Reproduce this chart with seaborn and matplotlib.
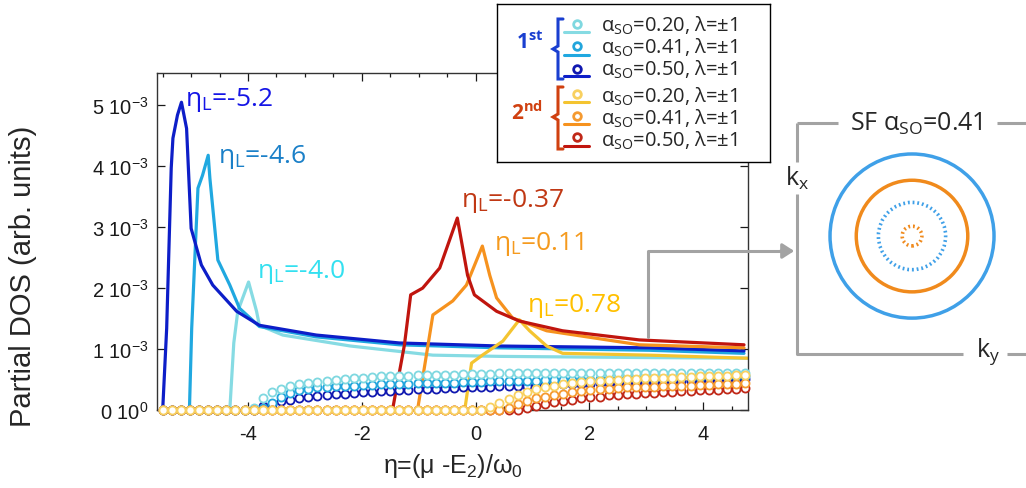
import numpy as np
import pandas as pd
import seaborn as sns
import matplotlib.pyplot as plt
from matplotlib.patches import Circle, FancyArrowPatch
from matplotlib.lines import Line2D
from matplotlib.ticker import MultipleLocator, FuncFormatter

# ============ 数据 (DOS in units of 1e-3) ============
# solid curves
eta_c20 = [-4.32, -4.25, -4.18, -3.99, -3.85, -3.80, -3.39, -2.20, -0.75, 0.42, 3.06, 4.78]
dos_c20 = [0.00, 1.10, 1.62, 2.10, 1.62, 1.39, 1.23, 1.05, 0.90, 0.88, 0.86, 0.85]
eta_b41 = [-5.03, -4.99, -4.88, -4.80, -4.70, -4.67, -4.53, -4.32, -4.15, -3.80, -2.80, -1.34, 0.42, 3.06, 4.72]
dos_b41 = [0.00, 1.34, 3.64, 3.85, 4.18, 3.80, 2.46, 2.05, 1.67, 1.37, 1.20, 1.07, 1.02, 0.98, 0.93]
eta_b50 = [-5.50, -5.43, -5.35, -5.32, -5.24, -5.17, -5.08, -5.00, -4.82, -4.62, -4.20, -3.80, -2.80, -1.34, 0.42, 3.06, 4.72]
dos_b50 = [0.00, 1.34, 3.97, 4.46, 4.84, 5.05, 4.62, 2.98, 2.38, 2.05, 1.62, 1.39, 1.23, 1.10, 1.05, 1.02, 0.97]
eta_y20 = [-0.19, -0.07, 0.12, 0.48, 0.77, 0.95, 1.25, 1.53, 3.06, 4.78]
dos_y20 = [0.00, 0.77, 0.90, 1.13, 1.48, 1.30, 1.05, 0.93, 0.90, 0.85]
eta_o41 = [-1.02, -0.75, -0.40, -0.16, 0.12, 0.25, 0.37, 0.65, 1.25, 2.88, 4.72]
dos_o41 = [0.00, 1.56, 1.79, 2.05, 2.69, 2.21, 1.84, 1.51, 1.30, 1.07, 1.02]
eta_r50 = [-1.46, -1.25, -1.14, -0.93, -0.63, -0.32, -0.14, -0.02, 0.37, 0.77, 1.53, 2.88, 4.72]
dos_r50 = [0.00, 1.07, 1.89, 2.00, 2.33, 3.15, 2.21, 1.89, 1.62, 1.46, 1.30, 1.15, 1.07]

# open-circle curves, sampled on a common eta grid
eta_grid = np.round(np.arange(-5.5, 4.75, 0.16), 2)
circ_c20 = [0.0] * 10 + [0.03, 0.20, 0.29, 0.35, 0.39, 0.42, 0.44, 0.46, 0.48, 0.50,
                         0.51, 0.52, 0.53, 0.54, 0.55, 0.55, 0.56, 0.56, 0.57, 0.57, 0.58,
                         0.58, 0.58, 0.59, 0.59, 0.59, 0.59, 0.60, 0.60, 0.60, 0.60,
                         0.60, 0.60, 0.60, 0.60, 0.60, 0.60, 0.60, 0.60, 0.60, 0.61,
                         0.61, 0.61, 0.61, 0.61, 0.61, 0.61, 0.61, 0.61, 0.61, 0.61,
                         0.61, 0.61, 0.61, 0.61]
circ_b41 = [0.0] * 11 + [0.03, 0.12, 0.22, 0.28, 0.32, 0.35, 0.37, 0.38, 0.39, 0.40,
                         0.40, 0.41, 0.41, 0.42, 0.42, 0.43, 0.43, 0.44, 0.44, 0.45,
                         0.45, 0.45, 0.46, 0.46, 0.46, 0.47, 0.47, 0.47, 0.48, 0.48,
                         0.48, 0.49, 0.49, 0.49, 0.50, 0.50, 0.50, 0.51, 0.51, 0.51,
                         0.52, 0.52, 0.52, 0.53, 0.53, 0.53, 0.54, 0.54, 0.54, 0.55,
                         0.55, 0.55, 0.56, 0.56]
circ_b50 = [0.0] * 11 + [0.06, 0.10, 0.14, 0.17, 0.19, 0.21, 0.23, 0.24, 0.26, 0.27,
                         0.28, 0.29, 0.30, 0.31, 0.31, 0.32, 0.33, 0.34, 0.34, 0.35,
                         0.36, 0.36, 0.37, 0.37, 0.38, 0.38, 0.39, 0.39, 0.40, 0.40,
                         0.40, 0.41, 0.41, 0.42, 0.42, 0.43, 0.43, 0.44, 0.44, 0.44,
                         0.45, 0.45, 0.46, 0.46, 0.47, 0.47, 0.48, 0.48, 0.49, 0.49,
                         0.50, 0.50, 0.51, 0.51]
circ_y20 = [0.0] * 36 + [0.05, 0.12, 0.18, 0.24, 0.30, 0.34, 0.37, 0.40, 0.42, 0.44,
                         0.46, 0.47, 0.48, 0.49, 0.50, 0.51, 0.51, 0.52, 0.52, 0.53,
                         0.53, 0.54, 0.54, 0.55, 0.55, 0.56, 0.56, 0.57, 0.57]
circ_o41 = [0.0] * 38 + [0.04, 0.10, 0.15, 0.19, 0.22, 0.25, 0.27, 0.29, 0.31, 0.33,
                         0.34, 0.35, 0.36, 0.37, 0.37, 0.38, 0.38, 0.39, 0.39, 0.40,
                         0.40, 0.41, 0.41, 0.42, 0.42, 0.43, 0.44]
circ_r50 = [0.0] * 40 + [0.03, 0.07, 0.10, 0.13, 0.15, 0.17, 0.19, 0.21, 0.22, 0.24,
                         0.25, 0.26, 0.27, 0.28, 0.28, 0.29, 0.30, 0.31, 0.31, 0.32,
                         0.33, 0.33, 0.34, 0.35, 0.36]

series = ["c20", "b41", "b50", "y20", "o41", "r50"]
circ_order = ["b50", "b41", "c20", "r50", "o41", "y20"]
line_colors = {"c20": "#86dbe3", "b41": "#20a8e0", "b50": "#0d1ec8",
               "y20": "#f4c430", "o41": "#f6921e", "r50": "#c0150e"}
circ_colors = {"c20": "#7fd8e0", "b41": "#22a5dc", "b50": "#1018b0",
               "y20": "#f8d060", "o41": "#f59a30", "r50": "#c02818"}
lines = {"c20": (eta_c20, dos_c20), "b41": (eta_b41, dos_b41), "b50": (eta_b50, dos_b50),
         "y20": (eta_y20, dos_y20), "o41": (eta_o41, dos_o41), "r50": (eta_r50, dos_r50)}
circles = {"c20": circ_c20, "b41": circ_b41, "b50": circ_b50,
           "y20": circ_y20, "o41": circ_o41, "r50": circ_r50}

# peak annotations
peak_text = ["-5.2", "-4.6", "-4.0", "-0.37", "0.11", "0.78"]
peak_x = [-5.11, -4.53, -3.85, -0.25, 0.33, 0.90]
peak_y = [5.11, 4.16, 2.28, 3.44, 2.74, 1.72]
peak_colors = ["#1515e6", "#1b80c8", "#33e0f0", "#c03814", "#f59a1e", "#ffc000"]

legend_alpha = ["0.20", "0.41", "0.50", "0.20", "0.41", "0.50"]
fs_radii = [1.0, 0.68, 0.41, 0.12]
fs_colors = ["#3fa0e8", "#f08a1c", "#3fa0e8", "#f08a1c"]
fs_dotted = [False, False, True, True]

# ============ 样式 ============
sns.set_style("ticks")
plt.rcParams["font.family"] = ["Liberation Sans", "DejaVu Sans"]
plt.rcParams["mathtext.default"] = "regular"
plt.rcParams["axes.unicode_minus"] = False
ann_font = ["Open Sans", "DejaVu Sans"]

fig = plt.figure(figsize=(10.26, 4.89), dpi=100)
W, H = 1026, 489
ax = fig.add_axes([157 / W, 1 - 411 / H, 591 / W, 337 / H])

for key in series:
    ex, dy = lines[key]
    df = pd.DataFrame({"eta": ex, "dos": np.array(dy) * 1e-3})
    sns.lineplot(data=df, x="eta", y="dos", color=line_colors[key], lw=2.3,
                 estimator=None, sort=False, ax=ax, zorder=2)

for key in circ_order:
    df = pd.DataFrame({"eta": eta_grid, "dos": np.array(circles[key]) * 1e-3})
    sns.scatterplot(data=df, x="eta", y="dos", marker="o", s=34, facecolor="white",
                    edgecolor=circ_colors[key], linewidth=1.3, ax=ax, zorder=3,
                    clip_on=False)

for txt, xx, yy, cc in zip(peak_text, peak_x, peak_y, peak_colors):
    ax.text(xx, yy * 1e-3, "η$_{L}$=" + txt, color=cc, fontsize=19, family=ann_font,
            va="center", ha="left")

ax.set_xlim(-5.6, 4.79)
ax.set_ylim(0, 5.53e-3)
ax.xaxis.set_major_locator(MultipleLocator(2))
ax.xaxis.set_minor_locator(MultipleLocator(0.5))
ax.yaxis.set_major_locator(MultipleLocator(1e-3))
ax.yaxis.set_major_formatter(FuncFormatter(
    lambda v, _: "0 10$^{0}$" if abs(v) < 1e-9 else f"{v * 1e3:.0f} 10$^{{-3}}$"))
ax.tick_params(which="both", direction="in", top=True, right=True, labelsize=14.5,
               colors="#1a1a1a", width=0.9)
ax.tick_params(which="major", length=6)
ax.tick_params(which="minor", length=3)
ax.tick_params(axis="x", pad=10)
ax.tick_params(axis="y", pad=6)
for sp in ax.spines.values():
    sp.set_linewidth(1.0)
    sp.set_color("#333333")
ax.set_xlabel("η=(μ -E$_{2}$)/ω$_{0}$", fontsize=18, labelpad=6)
ax.set_ylabel("Partial DOS (arb. units)", fontsize=21)
ax.yaxis.set_label_coords(-0.203, 0.40)

# ============ 图例框 ============
axl = fig.add_axes([497 / W, 1 - 163 / H, 273 / W, 158 / H])
axl.set_xlim(497, 770)
axl.set_ylim(163, 5)
axl.set_xticks([])
axl.set_yticks([])
for sp in axl.spines.values():
    sp.set_linewidth(1.0)
    sp.set_color("black")
mark_y = [25, 47, 70, 95, 117, 138]
line_y = [33, 56, 77, 103, 125, 147]
text_y = [26, 48, 70, 97, 119, 141]
for i, key in enumerate(series):
    axl.plot([564, 589], [line_y[i], line_y[i]], color=line_colors[key], lw=2.2)
    axl.plot([577], [mark_y[i]], marker="o", ms=5.5, mfc="white",
             mec=circ_colors[key], mew=2.0)
    axl.text(601, text_y[i], "α$_{SO}$=" + legend_alpha[i] + ", λ=±1", fontsize=14.5,
             family=ann_font, va="center", ha="left")
for (top, mid, bot, col) in [(20, 50, 80, "#1a3fd0"), (88, 118, 150, "#d04010")]:
    axl.plot([563, 558, 558, 553, 558, 558, 563], [top, top, mid - 3, mid, mid + 3, bot, bot],
             color=col, lw=2.2, solid_joinstyle="miter")
axl.text(516, 43, "1$^{st}$", color="#1a3fd0", fontsize=15, fontweight="bold",
         family=ann_font, va="center", ha="left")
axl.text(511, 113, "2$^{nd}$", color="#d04010", fontsize=15, fontweight="bold",
         family=ann_font, va="center", ha="left")

# ============ 费米面示意 ============
axf = fig.add_axes([780 / W, 1 - 370 / H, 246 / W, 270 / H])
axf.set_xlim(-1.61, 1.39)
axf.set_ylim(-1.62, 1.67)
axf.axis("off")
for r, c, dot in zip(fs_radii, fs_colors, fs_dotted):
    circ = Circle((0, 0), r, fill=False, edgecolor=c, lw=2.5 if not dot else 2.6,
                  linestyle=(0, (0.5, 0.8)) if dot else "-")
    axf.add_patch(circ)
gray = "#a3a3a3"
axf.plot([-1.40, -0.90], [1.38, 1.38], color=gray, lw=2.2, solid_capstyle="butt")
axf.plot([1.04, 1.39], [1.38, 1.38], color=gray, lw=2.2, solid_capstyle="butt")
axf.plot([-1.40, -1.40], [1.38, 0.90], color=gray, lw=2.2, solid_capstyle="butt")
axf.plot([-1.40, -1.40, 0.62], [0.51, -1.44, -1.44], color=gray, lw=2.2,
         solid_capstyle="butt")
axf.plot([1.16, 1.39], [-1.44, -1.44], color=gray, lw=2.2, solid_capstyle="butt")
axf.text(0.05, 1.38, "SF α$_{SO}$=0.41", fontsize=18, family=ann_font,
         ha="center", va="center")
axf.text(-1.40, 0.72, "k$_{x}$", fontsize=18, family=ann_font, ha="center", va="center")
axf.text(0.93, -1.40, "k$_{y}$", fontsize=18, family=ann_font, ha="center", va="center")

# 箭头
fig.add_artist(Line2D([648 / W, 648 / W, 785 / W], [1 - 338 / H, 1 - 252 / H, 1 - 252 / H],
                      color=gray, lw=2.2, transform=fig.transFigure))
fig.add_artist(FancyArrowPatch(
    (778 / W, 1 - 252 / H), (797 / W, 1 - 252 / H), transform=fig.transFigure,
    arrowstyle="-|>,head_length=7,head_width=4.5", color=gray, lw=2.2))

fig.savefig("out.png", dpi=100)
